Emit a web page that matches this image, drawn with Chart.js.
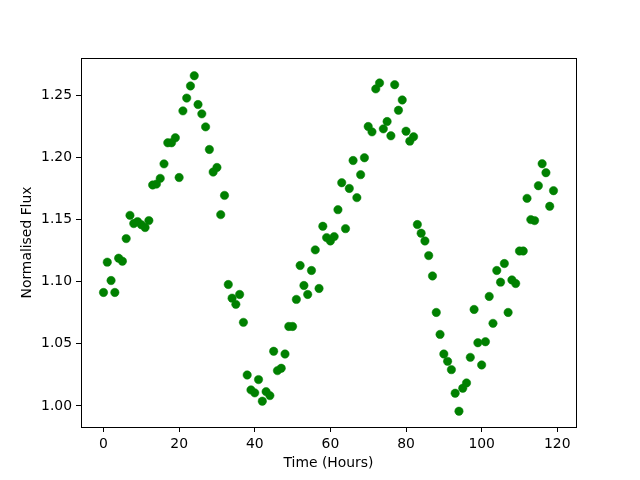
<!DOCTYPE html>
<html>
<head>
<meta charset="utf-8">
<script src="https://cdn.jsdelivr.net/npm/chart.js@4.4.0/dist/chart.umd.min.js"></script>
<style>
  html, body { margin: 0; padding: 0; background: #fff; }
  canvas { display: block; }
</style>
</head>
<body>
<canvas id="c" width="640" height="480"></canvas>
<script>
const hours = [0,1,2,3,4,5,6,7,8,9,10,11,12,13,14,15,16,17,18,19,
  20,21,22,23,24,25,26,27,28,29,30,31,32,33,34,35,36,37,38,39,
  40,41,42,43,44,45,46,47,48,49,50,51,52,53,54,55,56,57,58,59,
  60,61,62,63,64,65,66,67,68,69,70,71,72,73,74,75,76,77,78,79,
  80,81,82,83,84,85,86,87,88,89,90,91,92,93,94,95,96,97,98,99,
  100,101,102,103,104,105,106,107,108,109,110,111,112,113,114,115,116,117,118,119];
const flux = [1.0914,1.1158,1.1010,1.0914,1.1190,1.1166,1.1348,1.1535,1.1469,1.1485,
  1.1460,1.1437,1.1493,1.1780,1.1787,1.1833,1.1950,1.2120,1.2120,1.2160,
  1.1840,1.2377,1.2480,1.2578,1.2660,1.2428,1.2353,1.2248,1.2066,1.1884,
  1.1921,1.1541,1.1696,1.0978,1.0868,1.0818,1.0898,1.0673,1.0249,1.0129,
  1.0105,1.0212,1.0038,1.0115,1.0083,1.0440,1.0284,1.0303,1.0418,1.0640,
  1.0640,1.0858,1.1131,1.0970,1.0898,1.1091,1.1257,1.0946,1.1447,1.1356,
  1.1329,1.1364,1.1581,1.1798,1.1428,1.1752,1.1977,1.1678,1.1863,1.1999,
  1.2251,1.2208,1.2554,1.2602,1.2232,1.2291,1.2176,1.2588,1.2382,1.2465,
  1.2213,1.2133,1.2168,1.1461,1.1391,1.1329,1.1211,1.1047,1.0753,1.0576,
  1.0418,1.0359,1.0292,1.0102,0.9957,1.0142,1.0185,1.0391,1.0777,1.0509,
  1.0330,1.0517,1.0882,1.0665,1.1091,1.0997,1.1147,1.0753,1.1015,1.0986,
  1.1248,1.1248,1.1672,1.1501,1.1493,1.1774,1.1951,1.1879,1.1608,1.1734];
const xTicks = [0,20,40,60,80,100,120];
const yTicks = [1.00,1.05,1.10,1.15,1.20,1.25];
const xLabel = 'Time (Hours)';
const yLabel = 'Normalised Flux';

const points = hours.map((h, i) => ({x: h, y: flux[i]}));

Chart.defaults.font.family = "'DejaVu Sans', sans-serif";
Chart.defaults.font.size = 13.9;
Chart.defaults.color = '#000';

const frame = {
  id: 'frame',
  afterDatasetsDraw(chart) {
    const {ctx, chartArea: a} = chart;
    ctx.save();
    ctx.strokeStyle = '#000';
    ctx.lineWidth = 1;
    ctx.strokeRect(Math.round(a.left) + 0.5, Math.round(a.top) + 0.5,
                   Math.round(a.right - a.left), Math.round(a.bottom - a.top));
    ctx.restore();
  }
};

new Chart(document.getElementById('c'), {
  type: 'scatter',
  data: {
    datasets: [{
      data: points,
      backgroundColor: '#008000',
      borderColor: '#008000',
      borderWidth: 0.5,
      pointRadius: 4.2,
      pointHoverRadius: 4.2
    }]
  },
  options: {
    responsive: false,
    animation: false,
    layout: { padding: { left: 0, top: 58, right: 64, bottom: 0 } },
    plugins: { legend: { display: false }, tooltip: { enabled: false } },
    scales: {
      x: {
        type: 'linear',
        min: -5.95, max: 124.95,
        afterBuildTicks: s => { s.ticks = xTicks.map(v => ({value: v})); },
        afterFit: s => { s.height = 53; },
        ticks: { padding: 4, maxRotation: 0, callback: v => String(v) },
        grid: { drawOnChartArea: false, drawTicks: true, tickLength: 5, color: '#000' },
        border: { display: true, color: '#000' },
        title: { display: true, text: xLabel, padding: { top: 0, bottom: 8.2 } }
      },
      y: {
        type: 'linear',
        min: 0.9830, max: 1.2803,
        afterBuildTicks: s => { s.ticks = yTicks.map(v => ({value: v})); },
        afterFit: s => { s.width = 81; },
        ticks: { padding: 4, callback: v => Number(v).toFixed(2) },
        grid: { drawOnChartArea: false, drawTicks: true, tickLength: 5, color: '#000' },
        border: { display: true, color: '#000' },
        title: { display: true, text: yLabel, padding: { top: 18.7, bottom: 0 } }
      }
    }
  },
  plugins: [frame]
});
</script>
</body>
</html>
